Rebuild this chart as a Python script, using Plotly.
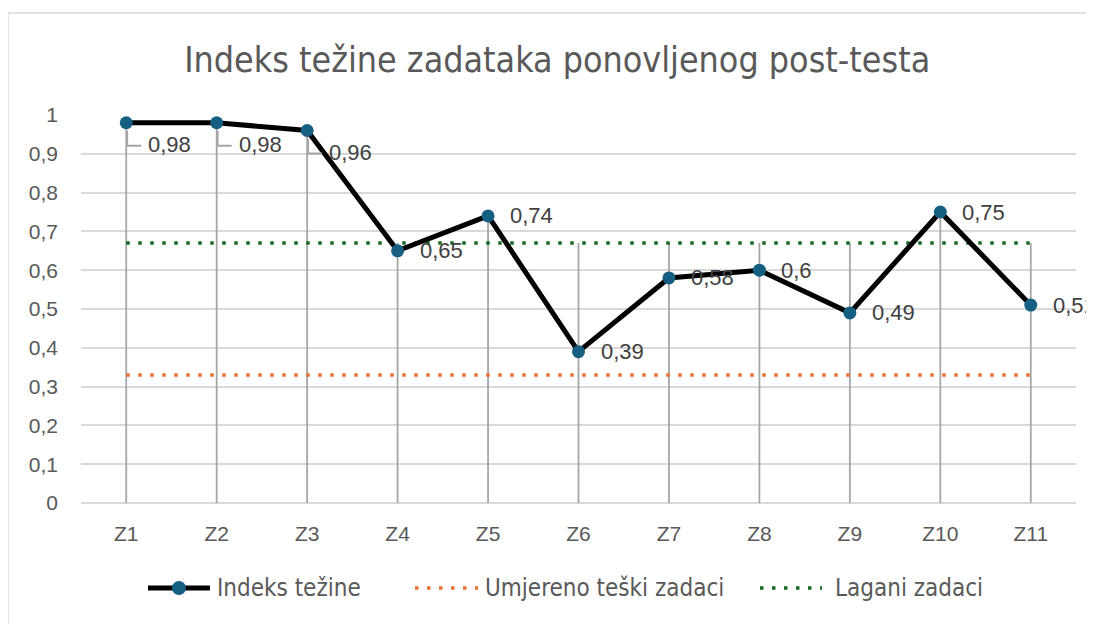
import plotly.graph_objects as go

# podaci
kategorije = ["Z1", "Z2", "Z3", "Z4", "Z5", "Z6", "Z7", "Z8", "Z9", "Z10", "Z11"]
indeks_tezine = [0.98, 0.98, 0.96, 0.65, 0.74, 0.39, 0.58, 0.6, 0.49, 0.75, 0.51]
umjereno_teski = [0.33] * 11
lagani = [0.67] * 11
y_tickovi = [0, 0.1, 0.2, 0.3, 0.4, 0.5, 0.6, 0.7, 0.8, 0.9, 1]
nazivi = ["Indeks težine", "Umjereno teški zadaci", "Lagani zadaci"]

GRID = "#d9d9d9"
DROP = "#a6a6a6"
TEXT = "#595959"
BLUE = "#156082"
ORANGE = "#E97132"
GREEN = "#196B24"
DOTS = "3.5px,8.5px"
NARROW = "Liberation Sans Narrow, DejaVu Sans Condensed, sans-serif"
SANS = "Liberation Sans, Arial, sans-serif"

# okomite linije (drop lines) od osi do najvise tocke u kategoriji
drop_x, drop_y = [], []
for k, a, b, c in zip(kategorije, indeks_tezine, umjereno_teski, lagani):
    drop_x += [k, k, None]
    drop_y += [0, max(a, b, c), None]

fig = go.Figure()
fig.add_trace(go.Scatter(
    x=drop_x, y=drop_y, mode="lines",
    line=dict(color=DROP, width=1.8),
    hoverinfo="skip",
))
fig.add_trace(go.Scatter(
    x=kategorije, y=umjereno_teski, name=nazivi[1], mode="lines",
    line=dict(color=ORANGE, width=3.5, dash=DOTS),
))
fig.add_trace(go.Scatter(
    x=kategorije, y=lagani, name=nazivi[2], mode="lines",
    line=dict(color=GREEN, width=3.5, dash=DOTS),
))
fig.add_trace(go.Scatter(
    x=kategorije, y=indeks_tezine, name=nazivi[0],
    mode="lines+markers",
    line=dict(color="black", width=5),
    marker=dict(color=BLUE, size=13),
    cliponaxis=False,
))

# oznake podataka
pomaknute = {0, 1, 2}  # labels with leader lines
annotations = []
shapes = []
for i, (k, v) in enumerate(zip(kategorije, indeks_tezine)):
    txt = f"{v:g}".replace(".", ",")
    dy = -22 if i in pomaknute else 0
    annotations.append(dict(
        x=k, y=v, text=txt, showarrow=False, xanchor="left",
        xshift=20, yshift=dy, font=dict(family=SANS, size=22, color="#404040"),
    ))
    if i in pomaknute:
        shapes.append(dict(
            type="path", xref="x", yref="y", xsizemode="pixel", ysizemode="pixel",
            xanchor=k, yanchor=v, path="M1,-8 V-23 H15",
            line=dict(color=DROP, width=1.8), layer="above",
        ))

# legenda (crtana rucno zbog duljih simbola)
LEG_Y = -0.219
leg_items = [
    # (x0, x1, text x, boja, dash)
    (0.0673, 0.1296, 0.1347, "black", "solid"),
    (0.3357, 0.3990, 0.4040, ORANGE, DOTS),
    (0.6824, 0.7447, 0.7558, GREEN, DOTS),
]
for naziv, (x0, x1, tx, boja, dash) in zip(nazivi, leg_items):
    shapes.append(dict(
        type="line", xref="paper", yref="paper", x0=x0, x1=x1, y0=LEG_Y, y1=LEG_Y,
        line=dict(color=boja, width=5 if dash == "solid" else 3.5, dash=dash),
    ))
    annotations.append(dict(
        x=tx, y=LEG_Y, xref="paper", yref="paper", text=naziv, showarrow=False,
        xanchor="left", yanchor="middle", font=dict(family=NARROW, size=24, color=TEXT),
    ))
shapes.append(dict(
    type="circle", xref="paper", yref="paper", xsizemode="pixel", ysizemode="pixel",
    xanchor=(leg_items[0][0] + leg_items[0][1]) / 2, yanchor=LEG_Y,
    x0=-7, x1=7, y0=-7, y1=7, fillcolor=BLUE, line=dict(width=0),
))

# okvir grafikona
shapes.append(dict(type="line", xref="paper", yref="paper", x0=-0.0734, x1=1.04,
                   y0=1.263, y1=1.263, line=dict(color=GRID, width=1.5)))
shapes.append(dict(type="line", xref="paper", yref="paper", x0=-0.0734, x1=-0.0734,
                   y0=1.263, y1=-0.34, line=dict(color=GRID, width=1.5)))

fig.update_layout(
    width=1094, height=624,
    margin=dict(l=73, r=26, t=107, b=129),
    paper_bgcolor="white", plot_bgcolor="white",
    separators=",.",
    showlegend=False,
    title=dict(
        text="Indeks težine zadataka ponovljenog post-testa",
        x=0.502, xanchor="center", y=1 - 52 / 624, yanchor="middle",
        font=dict(family=NARROW, size=35.5, color=TEXT),
    ),
    xaxis=dict(
        type="category", range=[-0.5, 10.5], showgrid=False,
        showline=False, zeroline=False,
        tickfont=dict(family=SANS, size=21, color=TEXT),
        ticklabelstandoff=16,
    ),
    yaxis=dict(
        range=[0, 1], tickvals=y_tickovi, showgrid=True,
        gridcolor=GRID, gridwidth=1.5, zeroline=True, zerolinecolor=GRID,
        zerolinewidth=1.5, showline=False,
        tickfont=dict(family=SANS, size=21, color=TEXT),
        ticklabelstandoff=22,
    ),
    annotations=annotations,
    shapes=shapes,
)

fig.write_html("out.html")
